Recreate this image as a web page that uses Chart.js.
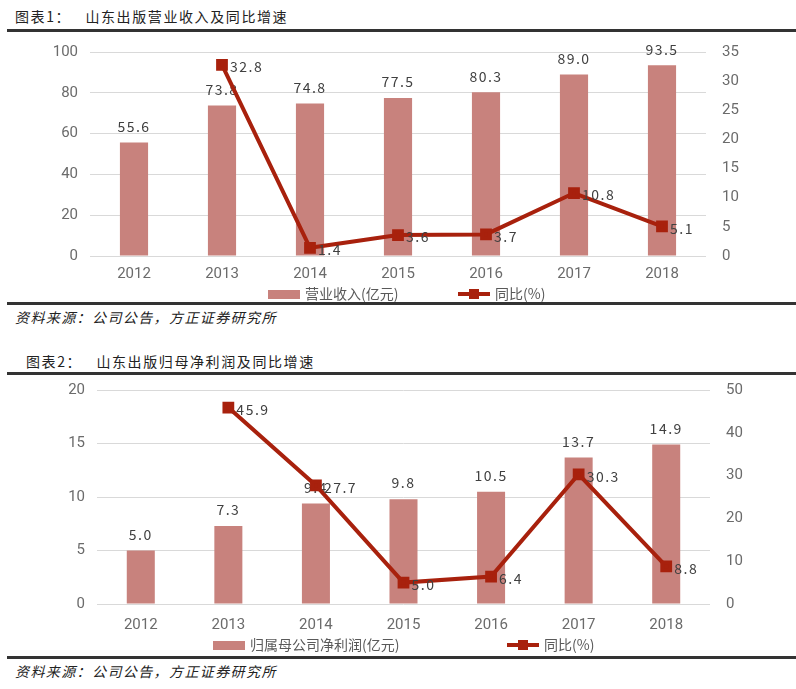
<!DOCTYPE html>
<html>
<head>
<meta charset="utf-8">
<script src="https://cdn.jsdelivr.net/npm/chart.js@4.4.1/dist/chart.umd.min.js"></script>
<style>
body { margin: 0; background: #fff; width: 796px; height: 689px; position: relative; overflow: hidden; font-family: "Noto Sans CJK SC", sans-serif; }
.title { position: absolute; font-size: 14px; color: #222; letter-spacing: 1.6px; white-space: pre; }
.rule { position: absolute; left: 7px; right: 0; height: 3px; background: #333; }
.src { position: absolute; font-size: 14px; font-style: italic; color: #222; letter-spacing: 1.4px; }
canvas { position: absolute; left: 0; }
</style>
</head>
<body>
<div class="title" style="left:15px;top:6px">图表1：   山东出版营业收入及同比增速</div>
<div class="rule" style="top:29px"></div>
<canvas id="chart1" width="796" height="275" style="top:27px"></canvas>
<div class="rule" style="top:302px"></div>
<div class="src" style="left:15px;top:307px">资料来源：公司公告，方正证券研究所</div>

<div class="title" style="left:26px;top:351px">图表2：   山东出版归母净利润及同比增速</div>
<div class="rule" style="top:372px"></div>
<canvas id="chart2" width="796" height="291" style="top:365px"></canvas>
<div class="rule" style="top:656px"></div>
<div class="src" style="left:15px;top:661px">资料来源：公司公告，方正证券研究所</div>

<script>
const years = ['2012', '2013', '2014', '2015', '2016', '2017', '2018'];
const revenue = [55.6, 73.8, 74.8, 77.5, 80.3, 89.0, 93.5];
const revenueYoY = [null, 32.8, 1.4, 3.6, 3.7, 10.8, 5.1];
const profit = [5.0, 7.3, 9.4, 9.8, 10.5, 13.7, 14.9];
const profitYoY = [null, 45.9, 27.7, 5.0, 6.4, 30.3, 8.8];

const BAR_COLOR = '#c8827d';
const LINE_COLOR = '#a8210d';
const TICK_FONT = { family: 'Roboto, sans-serif', size: 15 };
const TICK_COLOR = '#6b6b6b';

// labels drawn right after each dataset, so the line still covers the bar labels
const valueLabels = {
    id: 'valueLabels',
    afterDatasetDraw(chart, args) {
        const ds = chart.data.datasets[args.index];
        const ctx = chart.ctx;
        ctx.save();
        ctx.font = '14px "Noto Sans CJK SC"';
        ctx.letterSpacing = '1.5px';
        ctx.fillStyle = '#404040';
        args.meta.data.forEach((el, j) => {
            const v = ds.data[j];
            if (v == null) return;
            const txt = v.toFixed(1);
            if (ds.type === 'bar') {
                ctx.textAlign = 'center';
                ctx.textBaseline = 'bottom';
                ctx.fillText(txt, el.x, el.y - 9);
            } else {
                ctx.textAlign = 'left';
                ctx.textBaseline = 'middle';
                ctx.fillText(txt, el.x + 8, el.y + 2);
            }
        });
        ctx.restore();
    }
};

const legendRow = {
    id: 'legendRow',
    afterDraw(chart, args, opts) {
        const ctx = chart.ctx;
        const y = opts.y;
        ctx.save();
        ctx.font = '14px "Noto Sans CJK SC"';
        ctx.textBaseline = 'middle';
        ctx.textAlign = 'left';
        chart.data.datasets.forEach((ds, i) => {
            const x = opts.x[i];
            if (ds.type === 'bar') {
                ctx.fillStyle = ds.backgroundColor;
                ctx.fillRect(x, y - 4, 32, 9);
            } else {
                ctx.strokeStyle = ds.borderColor;
                ctx.lineWidth = 4;
                ctx.beginPath();
                ctx.moveTo(x, y);
                ctx.lineTo(x + 32, y);
                ctx.stroke();
                ctx.fillStyle = ds.borderColor;
                ctx.fillRect(x + 11, y - 5, 10, 10);
            }
            ctx.fillStyle = '#595959';
            ctx.fillText(ds.label, x + 37, y);
        });
        ctx.restore();
    }
};

function makeChart(id, barLabel, bars, line, left, right, area) {
    const ctx = document.getElementById(id).getContext('2d');
    return new Chart(ctx, {
        data: {
            labels: years,
            datasets: [
                {
                    type: 'line',
                    label: '同比(%)',
                    data: line,
                    yAxisID: 'y1',
                    borderColor: LINE_COLOR,
                    backgroundColor: LINE_COLOR,
                    borderWidth: 4,
                    pointStyle: 'rect',
                    pointRadius: 5.5,
                    pointBackgroundColor: LINE_COLOR,
                    pointBorderColor: LINE_COLOR,
                    tension: 0,
                    order: 0
                },
                {
                    type: 'bar',
                    label: barLabel,
                    data: bars,
                    yAxisID: 'y',
                    backgroundColor: BAR_COLOR,
                    barPercentage: 0.64,
                    categoryPercentage: 0.5,
                    order: 1
                }
            ]
        },
        options: {
            responsive: false,
            animation: { duration: 0 },
            layout: { padding: { top: 0, bottom: area.bottom, left: 0, right: 0 } },
            plugins: {
                legend: { display: false },
                tooltip: { enabled: false },
                legendRow: { y: area.legendY, x: area.legendX }
            },
            scales: {
                x: {
                    grid: { display: false, drawTicks: false },
                    border: { display: false },
                    ticks: { color: TICK_COLOR, font: TICK_FONT, padding: area.xPad },
                    afterFit(s) { s.height = 28; }
                },
                y: {
                    position: 'left',
                    min: left.min, max: left.max,
                    ticks: { stepSize: left.step, color: TICK_COLOR, font: TICK_FONT, padding: 12 },
                    grid: { color: '#d9d9d9', lineWidth: 1, drawTicks: false },
                    border: { display: false },
                    afterFit(s) { s.width = area.left; }
                },
                y1: {
                    position: 'right',
                    min: right.min, max: right.max,
                    ticks: { stepSize: right.step, color: TICK_COLOR, font: TICK_FONT, padding: 16 },
                    grid: { display: false, drawTicks: false },
                    border: { display: false },
                    afterFit(s) { s.width = area.right; }
                }
            }
        },
        plugins: [valueLabels, legendRow]
    });
}

makeChart('chart1', '营业收入(亿元)', revenue, revenueYoY,
    { min: 0, max: 100, step: 20 }, { min: 0, max: 35, step: 5 },
    { bottom: 18, left: 90, right: 90, xPad: 9, legendY: 267, legendX: [458, 268] });

makeChart('chart2', '归属母公司净利润(亿元)', profit, profitYoY,
    { min: 0, max: 20, step: 5 }, { min: 0, max: 50, step: 10 },
    { bottom: 24, left: 97, right: 86, xPad: 12, legendY: 280, legendX: [507, 213] });
</script>
</body>
</html>
